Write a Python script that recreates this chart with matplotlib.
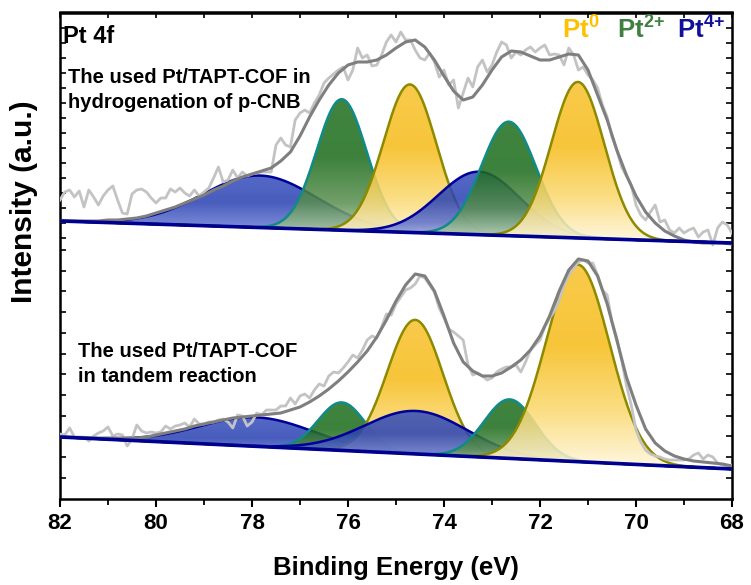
import numpy as np
import matplotlib
matplotlib.use("Agg")
import matplotlib.pyplot as plt
from matplotlib.colors import LinearSegmentedColormap
from matplotlib.patches import Polygon

plt.rcParams['font.family'] = ['Liberation Sans', 'DejaVu Sans']
plt.rcParams['font.weight'] = 'bold'
plt.rcParams['mathtext.fontset'] = 'custom'
plt.rcParams['mathtext.rm'] = 'Liberation Sans:bold'
plt.rcParams['mathtext.bf'] = 'Liberation Sans:bold'

# ---- data (binding energy in eV, intensity in arbitrary units) ----
# raw spectra, 82 -> 68 eV, step 0.1 eV
raw_top = [300, 308, 310, 303, 309, 293, 310, 303, 295, 304,
           310, 314, 300, 287, 286, 306, 310, 311, 308, 302,
           297, 302, 302, 311, 308, 312, 307, 304, 310, 304,
           308, 312, 322, 333, 318, 320, 330, 322, 328, 324,
           326, 327, 328, 328, 328, 355, 362, 355, 353, 380,
           387, 390, 387, 397, 405, 417, 422, 426, 430, 433,
           420, 430, 452, 442, 445, 434, 435, 445, 458, 465,
           458, 468, 460, 460, 450, 442, 440, 447, 438, 423,
           430, 415, 420, 392, 407, 422, 413, 433, 440, 428,
           435, 448, 458, 455, 442, 448, 445, 450, 453, 448,
           452, 455, 445, 446, 445, 435, 452, 445, 430, 433,
           425, 420, 412, 395, 383, 363, 350, 333, 324, 315,
           295, 285, 280, 288, 295, 278, 280, 270, 267, 272,
           267, 270, 272, 263, 268, 270, 255, 272, 278, 275,
           267]
raw_bot = [66, 65, 72, 63, 63, 63, 59, 64, 67, 69,
           73, 64, 66, 65, 54, 61, 75, 69, 67, 68,
           67, 68, 74, 71, 74, 75, 77, 73, 81, 76,
           76, 78, 78, 80, 81, 78, 72, 85, 84, 74,
           78, 87, 85, 90, 90, 90, 94, 94, 102, 96,
           104, 106, 102, 110, 116, 114, 124, 128, 127, 132,
           138, 145, 142, 150, 160, 164, 162, 173, 186, 185,
           196, 203, 210, 212, 216, 224, 222, 215, 208, 192,
           182, 171, 168, 164, 160, 135, 125, 127, 124, 120,
           122, 128, 131, 133, 133, 135, 128, 138, 150, 155,
           160, 173, 182, 189, 200, 215, 225, 232, 238, 240,
           237, 237, 225, 210, 205, 178, 162, 140, 115, 95,
           70, 58, 50, 46, 44, 43, 41, 40, 40, 40,
           40, 41, 45, 47, 41, 45, 43, 37, 35, 33,
           35]
be_raw = np.linspace(82, 68, len(raw_top))

# fitted envelopes, 82 -> 68 eV, step 0.2 eV
env_top = [279, 279, 279, 279, 279, 280, 280, 281, 282, 284,
           287, 290, 293, 297, 301, 305, 310, 314, 319, 323,
           326, 329, 332, 339, 348, 364, 383, 400, 415, 427,
           435, 438, 438, 440, 445, 452, 458, 460, 453, 440,
           424, 409, 400, 403, 415, 430, 443, 449, 448, 444,
           440, 440, 443, 446, 445, 430, 405, 380, 350, 325,
           304, 288, 277, 269, 264, 260, 258, 257, 257, 257,
           256]
env_bot = [63, 63, 62, 62, 62, 62, 62, 62, 62, 63,
           65, 67, 69, 71, 74, 76, 78, 80, 82, 83,
           84, 85, 86, 87, 90, 93, 98, 104, 111, 119,
           128, 138, 149, 163, 180, 199, 215, 226, 224, 209,
           184, 157, 138, 129, 124, 124, 127, 133, 140, 150,
           164, 184, 209, 230, 241, 239, 224, 196, 160, 123,
           95, 71, 57, 49, 44, 41, 39, 38, 37, 36,
           34]
be_env = np.linspace(82, 68, len(env_top))

# linear backgrounds (value at 82 eV, value at 68 eV)
bg_top = (279, 257)
bg_bot = (63, 31)

# fitted components
species_top = ['Pt4+', 'Pt2+', 'Pt0', 'Pt4+', 'Pt2+', 'Pt0']
center_top = [77.83, 76.13, 74.71, 73.27, 72.65, 71.21]
height_top = [52, 131, 148, 63, 114, 156]
sigma_top = [1.19, 0.52, 0.55, 0.85, 0.57, 0.55]

species_bot = ['Pt4+', 'Pt2+', 'Pt0', 'Pt4+', 'Pt2+', 'Pt0']
center_bot = [77.90, 76.13, 74.60, 74.58, 72.63, 71.21]
height_bot = [29, 48, 134, 43, 59, 197]
sigma_bot = [1.18, 0.49, 0.58, 1.07, 0.535, 0.66]

styles = {
    'Pt0': (['#FFF7E0', '#FBD970', '#F6BC1A', '#F8C22E'], '#8C8A00'),
    'Pt2+': (['#C9DEC2', '#5A9050', '#1C6C1C', '#207020'], '#118A8A'),
    'Pt4+': (['#C5CBEE', '#5E71CE', '#2A42B2', '#3850BE'], '#000099'),
}

fig = plt.figure(figsize=(7.51, 5.85), dpi=100)
ax = fig.add_axes([60 / 751, 86 / 585, 672 / 751, 486.5 / 585])

xf = np.linspace(82, 68, 701)


def draw_panel(bg, species, centers, heights, sigmas, z0):
    base = bg[0] + (bg[1] - bg[0]) * (82 - xf) / 14.0
    for i, sp in enumerate(species):
        g = heights[i] * np.exp(-0.5 * ((xf - centers[i]) / sigmas[i]) ** 2)
        top = base + g
        cols, edge = styles[sp]
        poly = Polygon(np.column_stack([np.r_[xf, xf[::-1]], np.r_[top, base[::-1]]]),
                       closed=True, facecolor='none', edgecolor='none',
                       transform=ax.transData)
        ax.add_patch(poly)
        cmap = LinearSegmentedColormap.from_list(
            'g', list(zip([0, 0.28, 0.6, 1.0], cols)))
        grad = np.linspace(0, 1, 256)[:, None]
        im = ax.imshow(grad, extent=[68, 82, base.min(), top.max()], origin='lower',
                       aspect='auto', cmap=cmap, alpha=0.86, zorder=z0 + i,
                       interpolation='bilinear')
        im.set_clip_path(poly)
        ax.plot(xf, top, color=edge, lw=1.8, zorder=z0 + i + 0.5)
    return base


base_t = draw_panel(bg_top, species_top, center_top, height_top, sigma_top, 2)
base_b = draw_panel(bg_bot, species_bot, center_bot, height_bot, sigma_bot, 2)

ax.plot(be_raw, raw_top, color='#C3C3C3', lw=2, zorder=10)
ax.plot(be_raw, raw_bot, color='#C3C3C3', lw=2, zorder=10)
ax.plot(be_env, env_top, color='#7F7F7F', lw=2.2, zorder=11)
ax.plot(be_env, env_bot, color='#7F7F7F', lw=2.2, zorder=11)
ax.plot(xf, base_t, color='#000090', lw=2.6, zorder=12)
ax.plot(xf, base_b, color='#000090', lw=2.6, zorder=12)

ax.set_xlim(82, 68)
ax.set_ylim(1, 487.5)

# ticks
ax.set_xticks(np.arange(82, 67, -2))
ax.set_xticks(np.arange(82, 67, -1), minor=True)
ax.tick_params(axis='x', which='major', direction='out', length=6, width=1.5,
               top=False, pad=4)
ax.tick_params(axis='x', which='minor', direction='out', length=4, width=1.3, top=False)
yt = list(500 - (13.3 + 15 * np.arange(1, 16))) + list(500 - (250 + 20.7 * np.arange(0, 12)))
ax.set_yticks(yt)
ax.tick_params(axis='y', which='both', direction='in', length=4, width=1.2,
               left=True, right=True, labelleft=False)
sec = ax.secondary_xaxis('top')
sec.set_xticks(np.arange(82, 67, -1))
sec.tick_params(direction='in', length=4, width=1.2, labeltop=False)
for s in list(ax.spines.values()) + list(sec.spines.values()):
    s.set_linewidth(1.8)

for lab in ax.get_xticklabels():
    lab.set_family(['Liberation Sans Narrow', 'Liberation Sans'])
    lab.set_fontsize(16)
    lab.set_fontweight('bold')


def fx(px):
    return px / 751


def fy(py):
    return 1 - py / 585


fig.text(fx(396), fy(568), 'Binding Energy (eV)', ha='center', va='center',
         fontsize=18.5, fontweight='bold', family=['Liberation Sans Narrow', 'Liberation Sans'])
fig.text(fx(24), fy(202), 'Intensity (a.u.)', ha='center', va='center', rotation=90,
         fontsize=21.5, fontweight='bold')

fig.text(fx(63), fy(43), 'Pt 4f', fontsize=17, fontweight='bold', va='baseline')
fig.text(fx(68), fy(83), 'The used Pt/TAPT-COF in', fontsize=14.5, fontweight='bold', va='baseline')
fig.text(fx(68), fy(108), 'hydrogenation of p-CNB', fontsize=14.5, fontweight='bold', va='baseline')
fig.text(fx(78), fy(357), 'The used Pt/TAPT-COF', fontsize=14.5, fontweight='bold', va='baseline')
fig.text(fx(78), fy(382), 'in tandem reaction', fontsize=14.5, fontweight='bold', va='baseline')

fig.text(fx(562), fy(38), r'Pt$^{\mathbf{0}}$', color='#FFC000', fontsize=18.5,
         fontweight='bold', va='baseline')
fig.text(fx(617), fy(38), r'Pt$^{\mathbf{2{+}}}$', color='#3F7F3F', fontsize=18.5,
         fontweight='bold', va='baseline')
fig.text(fx(677), fy(38), r'Pt$^{\mathbf{4{+}}}$', color='#10109A', fontsize=18.5,
         fontweight='bold', va='baseline')

fig.savefig('out.png', dpi=100)
